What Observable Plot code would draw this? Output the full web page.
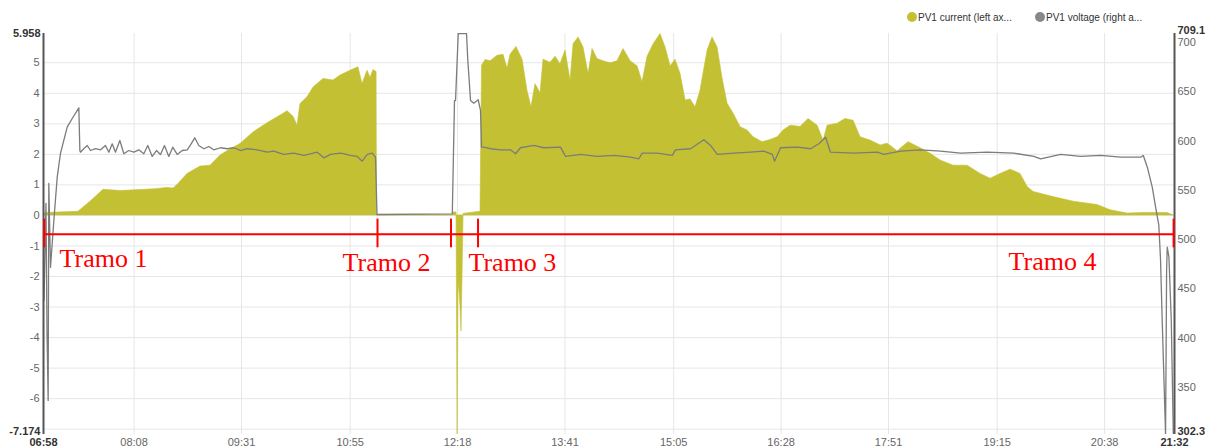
<!DOCTYPE html>
<html>
<head>
<meta charset="utf-8">
<script src="https://cdn.jsdelivr.net/npm/d3@7"></script>
<script src="https://cdn.jsdelivr.net/npm/@observablehq/plot@0.6"></script>
<style>
  html, body { margin: 0; padding: 0; background: #fff; }
  #wrap { position: relative; width: 1205px; height: 448px; overflow: hidden; }
  #legend { position: absolute; top: 0; left: 0; width: 1205px; height: 30px; font-family: "Liberation Sans", Arial, sans-serif; font-size: 10px; color: #333; }
  .item { position: absolute; top: 12px; white-space: nowrap; line-height: 12px; }
  .dot { display: inline-block; width: 10px; height: 10px; border-radius: 50%; vertical-align: -1px; margin-right: 1px; }
  svg { display: block; }
</style>
</head>
<body>
<div id="wrap">
  <div id="chart"></div>
  <div id="legend"></div>
</div>
<script>
// ---- Data (times are minutes since midnight) ----
const xTickLabels = ["06:58","08:08","09:31","10:55","12:18","13:41","15:05","16:28","17:51","19:15","20:38","21:32"];
const leftTicks = [-6,-5,-4,-3,-2,-1,0,1,2,3,4,5];
const leftGrid = [-7,-6,-5,-4,-3,-2,-1,0,1,2,3,4,5];
const leftExtremes = [5.958, -7.174];
const voltTicks = [350,400,450,500,550,600,650,700];
const voltExtremes = [709.1, 302.3];

const seriesNames = ["PV1 current (left ax...", "PV1 voltage (right a..."];

const currentTime = [418.8,419.5,445.0,454.3,464.4,477.5,493.0,504.6,513.8,518.5,521.6,529.3,539.3,547.1,554.8,560.2,570.2,580.3,591.1,601.2,606.6,611.2,614.3,616.6,622.0,626.7,634.4,642.1,647.5,655.3,661.4,664.5,668.4,670.7,673.0,675.4,675.7,
  734.1,734.9,737.2,738.0,738.7,739.5,740.3,741.0,741.8,742.6,748.0,755.7,
  756.9,759.6,763.5,768.9,773.5,776.6,778.9,783.5,788.2,792.0,795.1,798.2,802.1,804.4,809.8,813.7,817.5,821.4,825.3,827.6,831.5,835.3,839.2,842.3,846.1,850.8,856.2,861.6,866.2,871.7,877.1,880.9,884.8,889.4,894.8,898.7,902.6,906.4,910.3,914.2,918.0,921.9,925.7,931.2,935.0,938.9,942.7,946.6,951.2,956.7,962.1,966.7,973.7,979.8,985.3,989.9,995.3,1003.0,1009.2,1016.2,
  1020.8,1023.9,1031.6,1037.8,1044.0,1049.4,1057.1,1064.9,1070.3,1078.0,1086.5,1095.8,1103.5,1111.2,1121.3,1132.1,1142.1,1149.9,1157.6,1165.3,1173.0,1178.5,1183.1,1198.5,1214.0,1232.5,1242.6,1255.7,1268.1,1286.6,1291.3];
const currentAmps = [0.05,0.08,0.12,0.45,0.84,0.80,0.83,0.86,0.90,0.88,1.00,1.36,1.60,1.63,1.96,2.10,2.34,2.72,3.02,3.27,3.41,3.23,2.94,3.65,3.87,4.19,4.47,4.42,4.58,4.74,4.85,4.30,4.74,4.50,4.76,4.70,0,
  0,0.10,0.10,-7.17,-2.2,-2.5,-3.0,-3.8,-2.0,0.05,0.08,0.12,
  4.90,5.09,5.05,5.23,5.26,4.80,5.26,5.52,5.10,4.08,3.54,4.30,4.00,5.10,5.00,5.20,4.95,5.40,4.40,5.61,5.83,5.50,4.63,5.45,5.12,5.05,4.98,5.05,5.45,5.05,4.88,4.36,5.20,5.60,5.94,5.50,4.88,5.10,4.63,3.76,3.80,3.54,4.08,5.40,5.83,5.50,4.50,3.66,3.34,2.89,2.78,2.56,2.40,2.47,2.56,2.78,2.94,2.90,3.16,2.94,
  2.45,2.94,3.00,3.16,3.10,2.56,2.45,2.29,2.35,2.10,2.40,2.20,2.02,1.80,1.63,1.63,1.36,1.20,1.36,1.50,1.36,0.93,0.77,0.60,0.45,0.34,0.17,0.06,0.08,0.08,0.0];

const voltageTime = [418.4,419.9,420.7,421.6,422.1,423.4,424.6,426.0,428.6,431.1,436.3,440.2,445.3,446.1,446.6,449.1,451.8,454.3,458.2,462.1,465.9,468.5,471.1,473.6,477.0,480.1,483.9,487.8,491.7,495.5,498.6,502.0,505.3,508.4,511.5,514.8,517.9,521.3,525.2,529.1,532.1,534.9,538.0,541.9,545.7,549.6,554.8,560.0,565.1,570.2,575.4,583.2,590.9,596.0,603.7,611.4,619.2,624.3,629.5,634.6,639.8,647.5,655.3,660.4,664.3,668.2,672.0,674.6,675.7,
  733.9,735.6,736.4,738.5,744.9,745.9,748.0,750.5,753.9,755.7,756.5,758.3,763.5,771.2,778.9,782.8,786.6,796.9,804.6,817.5,821.4,833.0,845.9,858.7,871.7,878.1,880.7,892.3,903.9,906.4,918.0,928.3,933.5,938.6,951.5,964.4,974.7,981.2,982.9,987.6,1000.5,1010.8,1017.2,1019.8,1022.3,1026.2,1044.2,1062.3,1067.4,1080.3,1095.8,1111.2,1126.7,1147.3,1167.9,1183.3,1188.5,1204.0,1219.4,1234.9,1250.3,1265.8,1267.9,1271.0,1274.8,1277.4,1279.9,1281.2,1282.5,1285.1,1285.9,1286.4,1287.7,1289.5,1291.1];
const voltageVolts = [438.3,536.7,407.9,336.9,557.0,471.8,494.1,519.4,563.4,587.4,614.1,622.9,633.7,590.4,588.7,592.2,595.5,590.4,592.2,591.1,595.5,588.7,597.2,588.7,600.6,587.1,590.4,588.7,591.1,587.1,595.5,584.4,590.4,586.4,595.5,584.4,593.8,586.4,590.4,591.1,597.2,603.3,595.5,592.2,594.5,591.1,593.2,592.2,593.2,590.4,592.2,591.1,588.7,589.7,586.4,587.7,585.4,587.1,588.7,583.0,586.4,587.7,585.4,584.4,579.6,586.4,587.7,583.6,525.5,
  526.2,641.1,641.1,709.1,709.1,681.7,641.1,638.4,641.9,631.0,593.8,593.8,592.2,591.1,591.1,587.1,593.2,595.5,593.2,593.8,584.4,586.4,584.4,585.4,583.6,582.0,587.7,587.7,585.4,591.1,592.2,601.3,595.5,586.4,587.7,588.7,589.7,586.4,579.6,593.2,593.8,592.2,597.2,600.6,603.9,588.7,587.7,588.7,586.4,589.7,591.1,589.7,587.7,588.7,587.7,584.4,582.0,586.4,584.4,585.4,583.6,583.6,585.4,573.5,553.2,532.9,514.4,480.0,418.0,302.3,468.7,492.4,482.2,418.0,302.3];

// Section annotations (in data units: minutes, amps)
const sectionBreaks = [418.5, 676.1, 732.9, 753.8, 1291.3];
const sectionLabels = ["Tramo 1","Tramo 2","Tramo 3","Tramo 4"];
const sectionLabelTimes = [430.4, 649.1, 746.4, 1163.8];
const sectionLabelLevels = [-1.43, -1.56, -1.56, -1.52];
const sectionLineLevel = -0.62;
const sectionTickRange = [-0.12, -1.06];

// ---- Helpers ----
const toMin = s => { const [h, m] = s.split(":").map(Number); return h * 60 + m; };
const tickMinutes = xTickLabels.map(toMin);
const xLabelOf = new Map(tickMinutes.map((m, i) => [m, xTickLabels[i]]));
const [yMax, yMin] = leftExtremes;
const [vMax, vMin] = voltExtremes;
const toLeft = v => yMin + (v - vMin) * (yMax - yMin) / (vMax - vMin);
const rightLabelOf = new Map([...voltTicks, ...voltExtremes].map(v => [toLeft(v), String(v)]));

const current = currentTime.map((t, i) => ({t, a: currentAmps[i]}));
const voltage = voltageTime.map((t, i) => ({t, v: toLeft(voltageVolts[i])}));
const sections = [{x1: sectionBreaks[0], x2: sectionBreaks[sectionBreaks.length - 1], y: sectionLineLevel}];
const labels = sectionLabels.map((s, i) => ({s, t: sectionLabelTimes[i], y: sectionLabelLevels[i]}));

const currentColor = "#c3c034";
const voltageColor = "#7c7c7c";
const xEnds = [tickMinutes[0], tickMinutes[tickMinutes.length - 1]];
const axisCommon = {tickSize: 0, label: null};

const chart = Plot.plot({
  width: 1205,
  height: 448,
  marginTop: 33,
  marginBottom: 14,
  marginLeft: 43,
  marginRight: 31,
  x: {domain: xEnds, label: null},
  y: {domain: [yMin, yMax], label: null},
  style: {fontFamily: "'Liberation Sans', Arial, sans-serif", fontSize: "11px", background: "white", color: "#666", overflow: "visible"},
  marks: [
    Plot.gridY(leftGrid, {stroke: "#e6e6e6", strokeOpacity: 1}),
    Plot.gridX(tickMinutes, {stroke: "#e6e6e6", strokeOpacity: 1}),
    Plot.areaY(current, {x: "t", y: "a", fill: currentColor, stroke: currentColor, strokeWidth: 0.6}),
    Plot.lineY(voltage, {x: "t", y: "v", stroke: voltageColor, strokeWidth: 1.3, clip: true}),
    Plot.ruleX(xEnds, {stroke: "#555", strokeWidth: 2}),
    // left axis
    Plot.axisY(leftTicks, {...axisCommon, anchor: "left", tickPadding: 4, fill: "#666", tickFormat: d => String(d)}),
    Plot.axisY([leftExtremes[0]], {...axisCommon, anchor: "left", tickPadding: 3, fill: "#333", fontWeight: "bold", tickFormat: d => String(d)}),
    Plot.axisY([leftExtremes[1]], {...axisCommon, anchor: "left", tickPadding: 3, dy: -3, fill: "#333", fontWeight: "bold", tickFormat: d => String(d)}),
    // right axis (voltage)
    Plot.axisY(voltTicks.map(toLeft), {...axisCommon, anchor: "right", tickPadding: 3, fill: "#666", tickFormat: d => rightLabelOf.get(d)}),
    Plot.axisY([toLeft(voltExtremes[0])], {...axisCommon, anchor: "right", tickPadding: 3, dy: -3, fill: "#333", fontWeight: "bold", tickFormat: d => rightLabelOf.get(d)}),
    Plot.axisY([toLeft(voltExtremes[1])], {...axisCommon, anchor: "right", tickPadding: 3, dy: -3, fill: "#333", fontWeight: "bold", tickFormat: d => rightLabelOf.get(d)}),
    // x axis
    Plot.axisX(tickMinutes.slice(1, -1), {...axisCommon, tickPadding: 4, fill: "#666", tickFormat: d => xLabelOf.get(d)}),
    Plot.axisX(xEnds, {...axisCommon, tickPadding: 4, fill: "#333", fontWeight: "bold", tickFormat: d => xLabelOf.get(d)}),
    // sections
    Plot.ruleY(sections, {y: "y", x1: "x1", x2: "x2", stroke: "#ff0000", strokeWidth: 2}),
    Plot.ruleX(sectionBreaks, {y1: sectionTickRange[0], y2: sectionTickRange[1], stroke: "#ff0000", strokeWidth: 2}),
    Plot.text(labels, {x: "t", y: "y", text: "s", fill: "#ff0000", textAnchor: "start", fontFamily: "'Liberation Serif', 'Times New Roman', serif", fontSize: 26})
  ]
});
document.getElementById("chart").appendChild(chart);

// legend
const legend = document.getElementById("legend");
const legendLeft = [907, 1035];
[currentColor, "#888"].forEach((c, i) => {
  const it = document.createElement("div");
  it.className = "item";
  it.style.left = legendLeft[i] + "px";
  it.innerHTML = `<span class="dot" style="background:${c}"></span>`;
  it.appendChild(document.createTextNode(seriesNames[i]));
  legend.appendChild(it);
});
</script>
</body>
</html>
